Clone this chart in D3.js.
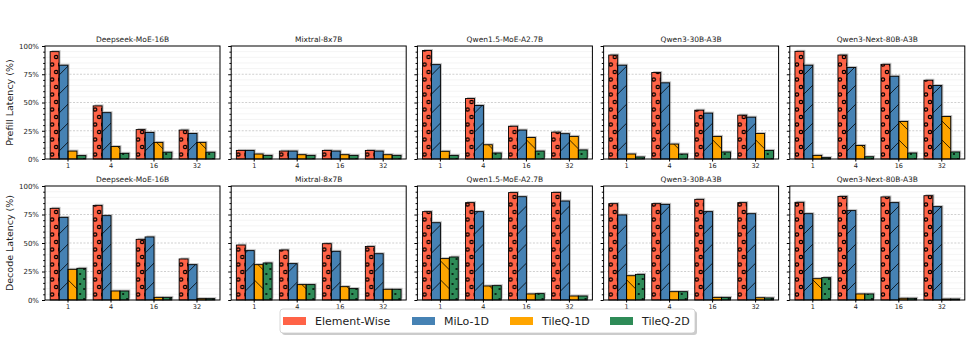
<!DOCTYPE html>
<html>
<head>
<meta charset="utf-8">
<script src="https://cdn.jsdelivr.net/npm/d3@7"></script>
<style>
  body { margin: 0; background: #fff; }
  text { font-family: "DejaVu Sans", sans-serif; }
</style>
</head>
<body>
<div id="chart"></div>
<script>
var svgWidth = 973;
var svgHeight = 341;

// data
var models = ["Deepseek-MoE-16B", "Mixtral-8x7B", "Qwen1.5-MoE-A2.7B", "Qwen3-30B-A3B", "Qwen3-Next-80B-A3B"];
var batchSizes = ["1", "4", "16", "32"];
var methods = ["Element-Wise", "MiLo-1D", "TileQ-1D", "TileQ-2D"];
var yTicks = [0, 25, 50, 75, 100];

// prefill[model][batch] = [Element-Wise, MiLo-1D, TileQ-1D, TileQ-2D]
var prefill = [
  [[95, 83, 7, 3], [47, 41, 11, 5], [26, 23.5, 14.7, 6], [25.6, 22.6, 14.7, 6]],
  [[7.6, 7.6, 4.4, 3.2], [7, 7, 3.8, 3.2], [7.6, 7, 3.8, 3.2], [7.6, 7, 3.8, 3.2]],
  [[96, 83.5, 6.8, 3.2], [53.5, 47.4, 12.6, 5.3], [29, 25.6, 19, 7], [23.8, 22.4, 20, 8]],
  [[92, 83, 4.4, 1.8], [76.5, 67.4, 13.2, 4.4], [43.2, 40.6, 20, 6.2], [38.8, 37, 22.6, 7.6]],
  [[95.3, 83, 3.2, 1.2], [92, 81, 12, 2], [83.8, 73.2, 33.2, 5.3], [69.7, 65, 37.6, 6.2]]
];

var decode = [
  [[80.4, 72.5, 26.9, 27.8], [83, 74, 7.9, 7.9], [53.2, 55.3, 2.3, 2.3], [36, 31, 1.2, 1.2]],
  [[48.2, 43.3, 31, 32.5], [43.9, 31.9, 13.5, 13.5], [49.4, 42.7, 11.7, 10], [47, 40.6, 9.4, 9.4]],
  [[77.5, 67.8, 36.3, 37.7], [85.4, 77.5, 12.3, 12.6], [94.2, 90.6, 5.3, 5.6], [94.4, 86.8, 3.5, 3.5]],
  [[84.5, 74.6, 21.3, 22.5], [84.5, 83.9, 7.3, 7.3], [88.3, 77.5, 2.3, 2.3], [85.4, 75.7, 2, 1.8]],
  [[85.7, 75.7, 18.7, 19.6], [90.9, 78.4, 5.3, 5.3], [90.4, 85.4, 1.5, 1.5], [91.5, 81.9, 0.9, 0.9]]
];

var colors = ["#ff6347", "#4682b4", "#ffa500", "#2e8b57"];
var hatchIds = ["hatch-o", "hatch-slash", "hatch-back", "hatch-dot"];

var panelLeft = 45;
var panelStep = 186.2;
var panelWidth = 175;
var rows = [
  { name: "Prefill Latency (%)", data: prefill, top: 46, height: 113 },
  { name: "Decode Latency (%)", data: decode, top: 186, height: 114 }
];

var svg = d3.select("#chart")
  .append("svg")
  .attr("width", svgWidth)
  .attr("height", svgHeight);

// hatch patterns
var defs = svg.append("defs");

var pO = defs.append("pattern").attr("id", "hatch-o")
  .attr("patternUnits", "userSpaceOnUse").attr("width", 8).attr("height", 15);
pO.append("circle").attr("cx", 2).attr("cy", 3.5).attr("r", 1.7)
  .attr("fill", "none").attr("stroke", "#000").attr("stroke-width", 1.2);
pO.append("circle").attr("cx", 6).attr("cy", 11).attr("r", 1.7)
  .attr("fill", "none").attr("stroke", "#000").attr("stroke-width", 1.2);

var pS = defs.append("pattern").attr("id", "hatch-slash")
  .attr("patternUnits", "userSpaceOnUse").attr("width", 19).attr("height", 19);
pS.append("path").attr("d", "M-1,20 L20,-1 M-1,1 L1,-1 M18,20 L20,18")
  .attr("stroke", "#000").attr("stroke-width", 0.8);

var pB = defs.append("pattern").attr("id", "hatch-back")
  .attr("patternUnits", "userSpaceOnUse").attr("width", 19).attr("height", 19);
pB.append("path").attr("d", "M-1,-1 L20,20 M18,-1 L20,1 M-1,18 L1,20")
  .attr("stroke", "#000").attr("stroke-width", 0.8);

var pD = defs.append("pattern").attr("id", "hatch-dot")
  .attr("patternUnits", "userSpaceOnUse").attr("width", 8).attr("height", 10);
pD.append("circle").attr("cx", 2).attr("cy", 3).attr("r", 1).attr("fill", "#000");
pD.append("circle").attr("cx", 6).attr("cy", 8).attr("r", 1).attr("fill", "#000");

rows.forEach(function (row, ri) {
  var y = d3.scaleLinear().domain([0, 100]).range([row.height, 0]);

  // row label
  svg.append("text")
    .attr("transform", `translate(13, ${row.top + row.height / 2}) rotate(-90)`)
    .attr("text-anchor", "middle")
    .attr("font-size", 9.5)
    .attr("fill", "#222")
    .text(row.name);

  models.forEach(function (model, mi) {
    var g = svg.append("g")
      .attr("transform", `translate(${panelLeft + mi * panelStep}, ${row.top})`);

    var x0 = d3.scaleBand().domain(batchSizes).range([0, panelWidth])
      .paddingInner(0.17).paddingOuter(0.12);
    var x1 = d3.scaleBand().domain(methods).range([0, x0.bandwidth()]);

    // minor grid
    g.append("g").selectAll("line")
      .data(d3.range(0, 101, 5).filter(v => v % 25 !== 0))
      .enter().append("line")
      .attr("x1", 0).attr("x2", panelWidth)
      .attr("y1", d => y(d)).attr("y2", d => y(d))
      .attr("stroke", "#ececec").attr("stroke-width", 0.6);

    // major grid
    g.append("g").selectAll("line")
      .data(yTicks.slice(1, 4))
      .enter().append("line")
      .attr("x1", 0).attr("x2", panelWidth)
      .attr("y1", d => y(d)).attr("y2", d => y(d))
      .attr("stroke", "#b0b0b0").attr("stroke-width", 0.6)
      .attr("stroke-dasharray", "2,1.5");

    var groups = g.selectAll(".grp")
      .data(row.data[mi])
      .enter().append("g")
      .attr("transform", (d, i) => `translate(${x0(batchSizes[i])}, 0)`);

    // shadows
    groups.selectAll(".shadow")
      .data(d => d)
      .enter().append("rect")
      .attr("x", (d, i) => x1(methods[i]) + 1.5)
      .attr("y", d => y(d) - 1.5)
      .attr("width", x1.bandwidth())
      .attr("height", d => row.height - y(d))
      .attr("fill", "#777")
      .attr("opacity", 0.45);

    // bars
    groups.selectAll(".bar")
      .data(d => d)
      .enter().append("rect")
      .attr("x", (d, i) => x1(methods[i]))
      .attr("y", d => y(d))
      .attr("width", x1.bandwidth())
      .attr("height", d => row.height - y(d))
      .attr("fill", (d, i) => colors[i]);

    groups.selectAll(".hatch")
      .data(d => d)
      .enter().append("rect")
      .attr("x", (d, i) => x1(methods[i]))
      .attr("y", d => y(d))
      .attr("width", x1.bandwidth())
      .attr("height", d => row.height - y(d))
      .attr("fill", (d, i) => `url(#${hatchIds[i]})`)
      .attr("stroke", "#000")
      .attr("stroke-width", 0.9);

    // axes
    var leftAxis = d3.axisLeft(y).tickValues(yTicks).tickSize(3)
      .tickFormat(mi === 0 ? (d => d + "%") : "");
    var yAxis = g.append("g").call(leftAxis);
    yAxis.select(".domain").remove();
    yAxis.selectAll("text").attr("font-size", 7).attr("fill", "#222").attr("font-family", "DejaVu Sans");

    var minorAxis = g.append("g").call(
      d3.axisLeft(y).tickValues(d3.range(0, 101, 5).filter(v => v % 25 !== 0))
        .tickSize(1.8).tickFormat(""));
    minorAxis.select(".domain").remove();

    var bottomAxis = d3.axisBottom(x0).tickSize(2.5).tickPadding(1.5);
    var xAxis = g.append("g")
      .attr("transform", `translate(0, ${row.height})`)
      .call(bottomAxis);
    xAxis.select(".domain").remove();
    xAxis.selectAll("text").attr("font-size", 6.5).attr("fill", "#222").attr("font-family", "DejaVu Sans");

    // frame
    g.append("rect")
      .attr("width", panelWidth).attr("height", row.height)
      .attr("fill", "none").attr("stroke", "#000").attr("stroke-width", 1);

    // title
    g.append("text")
      .attr("x", panelWidth / 2).attr("y", -4)
      .attr("text-anchor", "middle")
      .attr("font-size", 7.5)
      .attr("fill", "#222")
      .text(model);
  });
});

// legend
var legend = svg.append("g").attr("transform", "translate(280, 309)");
legend.append("rect")
  .attr("x", 2).attr("y", 2).attr("width", 415).attr("height", 24)
  .attr("rx", 3).attr("fill", "#999").attr("opacity", 0.5);
legend.append("rect")
  .attr("width", 415).attr("height", 24)
  .attr("rx", 3).attr("fill", "#fff").attr("stroke", "#ccc").attr("stroke-width", 0.8);

var legendX = [3, 132, 230, 330];
methods.forEach(function (m, i) {
  legend.append("rect")
    .attr("x", legendX[i]).attr("y", 8)
    .attr("width", 23).attr("height", 8)
    .attr("fill", colors[i]);
  legend.append("text")
    .attr("x", legendX[i] + 32).attr("y", 16)
    .attr("font-size", 11)
    .attr("fill", "#222")
    .text(m);
});
</script>
</body>
</html>
